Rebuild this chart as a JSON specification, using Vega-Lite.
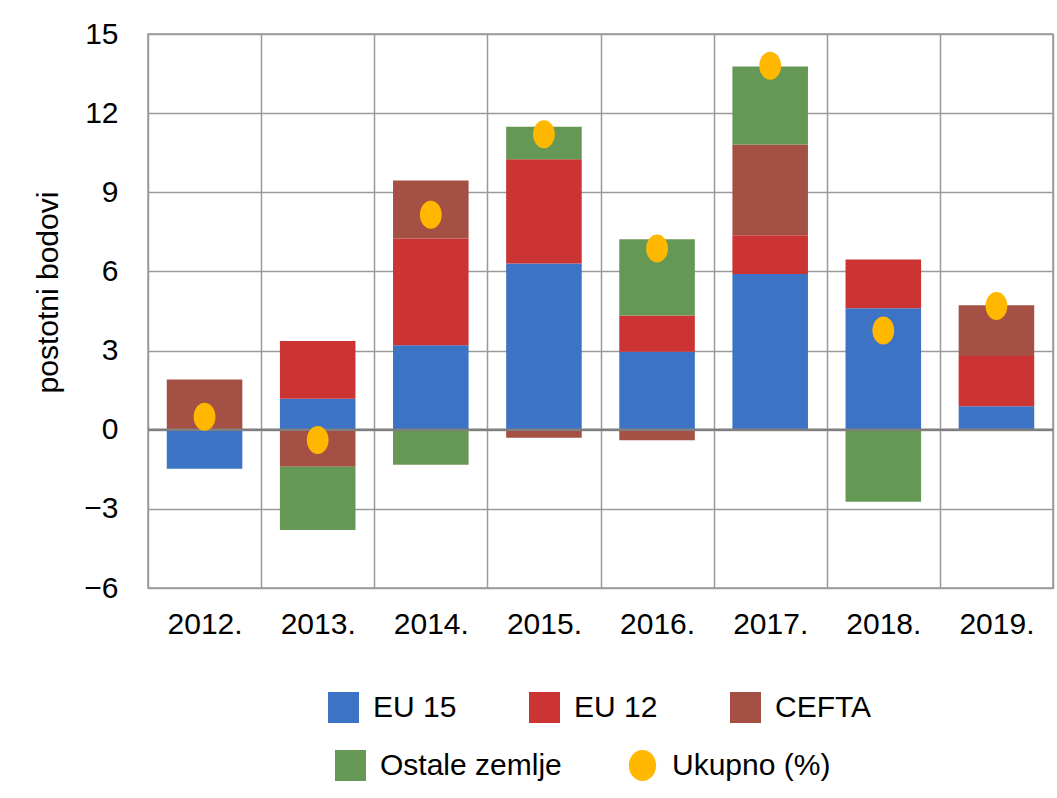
{
  "$schema": "https://vega.github.io/schema/vega-lite/v6.json",
  "width": 905,
  "height": 554,
  "autosize": {"type": "none"},
  "padding": {"left": 148, "top": 34, "right": 4, "bottom": 210},
  "background": "white",
  "config": {
    "font": "Liberation Sans",
    "view": {"stroke": "#999999", "strokeWidth": 1.5},
    "axis": {
      "labelFont": "Liberation Sans", "labelFontSize": 30, "labelColor": "#000000",
      "titleFont": "Liberation Sans", "titleFontSize": 30, "titleFontWeight": "normal", "titleColor": "#000000",
      "domain": false, "ticks": false, "gridColor": "#9a9a9a", "gridWidth": 1.5, "gridOpacity": 1
    },
    "legend": {
      "labelFont": "Liberation Sans", "labelFontSize": 30, "labelColor": "#000000",
      "symbolSize": 961, "symbolType": "square", "symbolStrokeWidth": 0, "symbolOpacity": 1,
      "labelOffset": 14, "columnPadding": 72, "padding": 0, "labelLimit": 400
    }
  },
  "datasets": {
    "parts": [
      {"year": "2012.", "series": "EU 15", "ord": 1, "value": -1.48},
      {"year": "2012.", "series": "EU 12", "ord": 2, "value": 0},
      {"year": "2012.", "series": "CEFTA", "ord": 3, "value": 1.9},
      {"year": "2012.", "series": "Ostale zemlje", "ord": 4, "value": 0},
      {"year": "2013.", "series": "EU 15", "ord": 1, "value": 1.17},
      {"year": "2013.", "series": "EU 12", "ord": 2, "value": 2.19},
      {"year": "2013.", "series": "CEFTA", "ord": 3, "value": -1.4},
      {"year": "2013.", "series": "Ostale zemlje", "ord": 4, "value": -2.4},
      {"year": "2014.", "series": "EU 15", "ord": 1, "value": 3.2},
      {"year": "2014.", "series": "EU 12", "ord": 2, "value": 4.05},
      {"year": "2014.", "series": "CEFTA", "ord": 3, "value": 2.2},
      {"year": "2014.", "series": "Ostale zemlje", "ord": 4, "value": -1.33},
      {"year": "2015.", "series": "EU 15", "ord": 1, "value": 6.3},
      {"year": "2015.", "series": "EU 12", "ord": 2, "value": 3.95},
      {"year": "2015.", "series": "CEFTA", "ord": 3, "value": -0.3},
      {"year": "2015.", "series": "Ostale zemlje", "ord": 4, "value": 1.23},
      {"year": "2016.", "series": "EU 15", "ord": 1, "value": 2.96},
      {"year": "2016.", "series": "EU 12", "ord": 2, "value": 1.37},
      {"year": "2016.", "series": "CEFTA", "ord": 3, "value": -0.4},
      {"year": "2016.", "series": "Ostale zemlje", "ord": 4, "value": 2.89},
      {"year": "2017.", "series": "EU 15", "ord": 1, "value": 5.9},
      {"year": "2017.", "series": "EU 12", "ord": 2, "value": 1.47},
      {"year": "2017.", "series": "CEFTA", "ord": 3, "value": 3.44},
      {"year": "2017.", "series": "Ostale zemlje", "ord": 4, "value": 2.96},
      {"year": "2018.", "series": "EU 15", "ord": 1, "value": 4.6},
      {"year": "2018.", "series": "EU 12", "ord": 2, "value": 1.85},
      {"year": "2018.", "series": "CEFTA", "ord": 3, "value": 0},
      {"year": "2018.", "series": "Ostale zemlje", "ord": 4, "value": -2.73},
      {"year": "2019.", "series": "EU 15", "ord": 1, "value": 0.89},
      {"year": "2019.", "series": "EU 12", "ord": 2, "value": 1.9},
      {"year": "2019.", "series": "CEFTA", "ord": 3, "value": 1.93},
      {"year": "2019.", "series": "Ostale zemlje", "ord": 4, "value": 0}
    ],
    "totals": [
      {"year": "2012.", "series": "Ukupno (%)", "value": 0.49},
      {"year": "2013.", "series": "Ukupno (%)", "value": -0.39},
      {"year": "2014.", "series": "Ukupno (%)", "value": 8.15},
      {"year": "2015.", "series": "Ukupno (%)", "value": 11.2},
      {"year": "2016.", "series": "Ukupno (%)", "value": 6.87},
      {"year": "2017.", "series": "Ukupno (%)", "value": 13.8},
      {"year": "2018.", "series": "Ukupno (%)", "value": 3.76},
      {"year": "2019.", "series": "Ukupno (%)", "value": 4.69}
    ]
  },
  "layer": [
    {
      "data": {"name": "parts"},
      "mark": {"type": "bar", "width": {"band": 0.668}},
      "encoding": {
        "x": {
          "field": "year", "type": "ordinal",
          "scale": {"paddingInner": 0, "paddingOuter": 0},
          "axis": {"title": null, "grid": true, "tickBand": "extent", "labelAngle": 0, "labelPadding": 21}
        },
        "y": {
          "field": "value", "type": "quantitative", "stack": "zero",
          "scale": {"domain": [-6, 15], "nice": false, "zero": false},
          "axis": {"title": "postotni bodovi", "values": [-6, -3, 0, 3, 6, 9, 12, 15], "grid": true, "labelPadding": 30, "titlePadding": 20, "titleY": 258}
        },
        "color": {
          "field": "series", "type": "nominal",
          "scale": {"domain": ["EU 15", "EU 12", "CEFTA", "Ostale zemlje"], "range": ["#3D73C4", "#CC3333", "#A55045", "#659855"]},
          "legend": {"title": null, "values": ["EU 15", "EU 12", "CEFTA"], "orient": "none", "legendX": 180, "legendY": 658, "direction": "horizontal", "columns": 3}
        },
        "order": {"field": "ord", "type": "quantitative"}
      }
    },
    {
      "data": {"values": [{}]},
      "mark": {"type": "rule", "color": "#7f7f7f", "strokeWidth": 2.5},
      "encoding": {"y": {"datum": 0}}
    },
    {
      "data": {"name": "totals"},
      "mark": {"type": "point", "filled": true, "shape": "M0,-1A0.78,1 0 1,1 0,1A0.78,1 0 1,1 0,-1Z", "size": 784, "opacity": 1, "strokeWidth": 0},
      "encoding": {
        "x": {"field": "year", "type": "ordinal"},
        "y": {"field": "value", "type": "quantitative"},
        "fill": {
          "field": "series", "type": "nominal",
          "scale": {"domain": ["Ostale zemlje", "Ukupno (%)"], "range": ["#659855", "#FFB700"]},
          "legend": {
            "title": null, "orient": "none", "legendX": 187, "legendY": 716, "direction": "horizontal", "columns": 2, "columnPadding": 65,
            "encode": {"symbols": {"update": {"shape": {"signal": "datum.value === 'Ukupno (%)' ? 'M0,-1A0.88,1 0 1,1 0,1A0.88,1 0 1,1 0,-1Z' : 'square'"}}}}
          }
        }
      }
    }
  ]
}
